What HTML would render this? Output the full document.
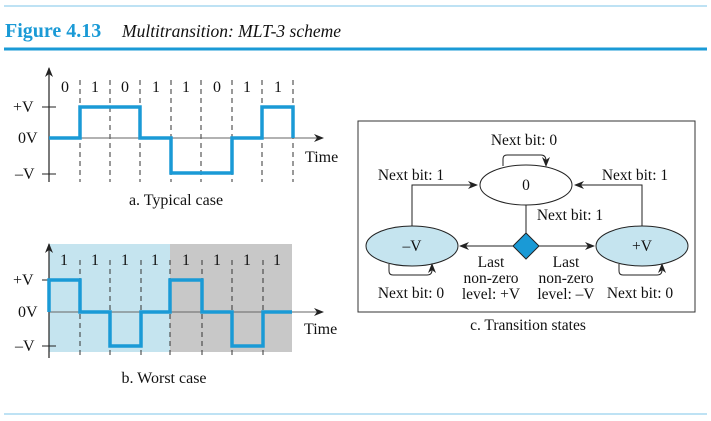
<!DOCTYPE html>
<html><head><style>
body{margin:0;background:#fff;}
svg{display:block;font-family:"Liberation Serif",serif;}
</style></head><body>
<svg width="711" height="421" viewBox="0 0 711 421" xmlns="http://www.w3.org/2000/svg">
<defs>
<marker id="ah" markerWidth="10" markerHeight="8" refX="9" refY="4" orient="auto" markerUnits="userSpaceOnUse"><path d="M0,0 L10,4 L0,8 L3,4 Z" fill="#222"/></marker>
</defs>
<line x1="4" y1="6" x2="707" y2="6" stroke="#7cc4e8" stroke-width="1"/>
<text x="5" y="37" font-size="20" font-weight="bold" fill="#1a9ad6">Figure 4.13</text>
<text x="122" y="37" font-size="17.5" font-style="italic" fill="#111">Multitransition: MLT-3 scheme</text>
<line x1="4" y1="49" x2="707" y2="49" stroke="#1a9ad6" stroke-width="3"/>
<line x1="4" y1="414" x2="707" y2="414" stroke="#7cc4e8" stroke-width="1"/>

<!-- Plot a -->
<g stroke="#333" stroke-width="1" stroke-dasharray="5,4" fill="none">
<line x1="80" y1="80" x2="80" y2="182"/><line x1="110" y1="80" x2="110" y2="182"/><line x1="140" y1="80" x2="140" y2="182"/><line x1="171" y1="80" x2="171" y2="182"/><line x1="201" y1="80" x2="201" y2="182"/><line x1="232" y1="80" x2="232" y2="182"/><line x1="262" y1="80" x2="262" y2="182"/><line x1="293" y1="80" x2="293" y2="182"/>
</g>
<line x1="49" y1="182" x2="49" y2="68" stroke="#222" stroke-width="1.2" marker-end="url(#ah)"/>
<line x1="49" y1="138" x2="323" y2="138" stroke="#666" stroke-width="1" marker-end="url(#ah)"/>
<line x1="42" y1="107" x2="56" y2="107" stroke="#222"/><line x1="42" y1="174" x2="56" y2="174" stroke="#222"/>
<polyline points="49,138 80,138 80,107 140,107 140,138 171,138 171,173 232,173 232,138 262,138 262,107 293,107 293,138" fill="none" stroke="#1a9ad6" stroke-width="3.5"/>
<g font-size="16" fill="#111">
<text x="13" y="112">+V</text><text x="18" y="143">0V</text><text x="15" y="179">–V</text>
<text x="305" y="162">Time</text>
<g text-anchor="middle"><text x="65" y="92">0</text><text x="95" y="92">1</text><text x="125" y="92">0</text><text x="156" y="92">1</text><text x="186" y="92">1</text><text x="217" y="92">0</text><text x="247" y="92">1</text><text x="278" y="92">1</text>
<text x="176" y="205">a. Typical case</text></g>
</g>

<!-- Plot b -->
<rect x="49" y="244" width="121" height="108" fill="#c5e4ef"/>
<rect x="170" y="244" width="122" height="108" fill="#c8c8c8"/>
<g stroke="#333" stroke-width="1" stroke-dasharray="5,4" fill="none">
<line x1="80" y1="260" x2="80" y2="358"/><line x1="110" y1="260" x2="110" y2="358"/><line x1="141" y1="260" x2="141" y2="358"/><line x1="170" y1="260" x2="170" y2="358"/><line x1="202" y1="260" x2="202" y2="358"/><line x1="232" y1="260" x2="232" y2="358"/><line x1="263" y1="260" x2="263" y2="358"/>
</g>
<line x1="49" y1="358" x2="49" y2="244" stroke="#222" stroke-width="1.2" marker-end="url(#ah)"/>
<line x1="49" y1="312" x2="323" y2="312" stroke="#666" stroke-width="1" marker-end="url(#ah)"/>
<line x1="42" y1="280" x2="56" y2="280" stroke="#222"/><line x1="42" y1="346" x2="56" y2="346" stroke="#222"/>
<polyline points="49,312 49,280 80,280 80,312 110,312 110,346 141,346 141,312 170,312 170,280 202,280 202,312 232,312 232,346 263,346 263,312 292,312" fill="none" stroke="#1a9ad6" stroke-width="3.5"/>
<g font-size="16" fill="#111">
<text x="13" y="285">+V</text><text x="18" y="317">0V</text><text x="15" y="351">–V</text>
<text x="304" y="334">Time</text>
<g text-anchor="middle"><text x="64" y="265">1</text><text x="95" y="265">1</text><text x="125" y="265">1</text><text x="155" y="265">1</text><text x="186" y="265">1</text><text x="217" y="265">1</text><text x="247" y="265">1</text><text x="277" y="265">1</text>
<text x="164" y="383">b. Worst case</text></g>
</g>

<!-- Panel c -->
<rect x="358" y="121" width="337" height="191" fill="none" stroke="#333" stroke-width="1"/>
<ellipse cx="526" cy="185" rx="46" ry="20" fill="#fff" stroke="#222" stroke-width="1"/>
<ellipse cx="412" cy="246" rx="46" ry="20" fill="#c5e4ef" stroke="#222" stroke-width="1"/>
<ellipse cx="642" cy="246" rx="46" ry="20" fill="#c5e4ef" stroke="#222" stroke-width="1"/>
<line x1="526" y1="205" x2="526" y2="233" stroke="#222"/>
<polygon points="526,233 539,246 526,259 513,246" fill="#1a9ad6" stroke="#222" stroke-width="1"/>
<line x1="513" y1="246" x2="460" y2="246" stroke="#222" marker-end="url(#ah)"/>
<line x1="539" y1="246" x2="594" y2="246" stroke="#222" marker-end="url(#ah)"/>
<polyline points="412,226 412,185 477,185" fill="none" stroke="#222" marker-end="url(#ah)"/>
<polyline points="642,226 642,185 575,185" fill="none" stroke="#222" marker-end="url(#ah)"/>
<path d="M503,166 L503,159 Q503,155 507,155 L541,155 Q546,155 546,161 L546,166" fill="none" stroke="#222" marker-end="url(#ah)"/>
<path d="M389,264 L389,271 Q389,275 393,275 L427,275 Q432,275 432,270 L432,264" fill="none" stroke="#222" marker-end="url(#ah)"/>
<path d="M619,264 L619,271 Q619,275 623,275 L657,275 Q662,275 662,270 L662,264" fill="none" stroke="#222" marker-end="url(#ah)"/>
<g font-size="15.5" fill="#111" text-anchor="middle">
<text x="526" y="190">0</text><text x="412" y="251">–V</text><text x="642" y="251">+V</text>
<text x="524" y="145">Next bit: 0</text>
<text x="411" y="180">Next bit: 1</text>
<text x="635" y="180">Next bit: 1</text>
<text x="570" y="220">Next bit: 1</text>
<text x="411" y="298">Next bit: 0</text>
<text x="640" y="298">Next bit: 0</text>
<text x="491" y="267">Last</text><text x="491" y="283">non-zero</text><text x="491" y="299">level: +V</text>
<text x="566" y="267">Last</text><text x="566" y="283">non-zero</text><text x="566" y="299">level: –V</text>
<text x="528" y="330">c. Transition states</text>
</g>
</svg>
</body></html>
